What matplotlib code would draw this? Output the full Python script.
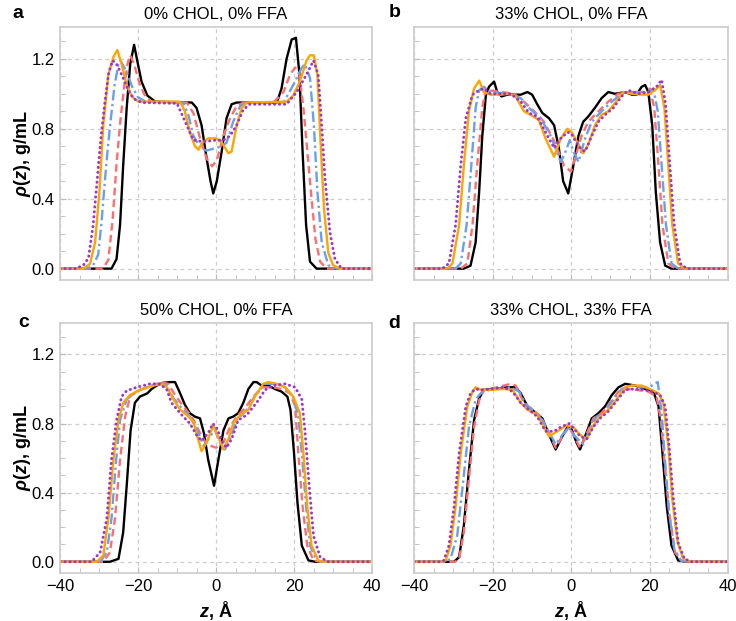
import numpy as np
import matplotlib.pyplot as plt
from matplotlib.ticker import MultipleLocator

plt.rcParams['font.family'] = ['Liberation Sans', 'DejaVu Sans']
plt.rcParams['mathtext.fontset'] = 'custom'
plt.rcParams['mathtext.it'] = 'Liberation Sans:italic:bold'
plt.rcParams['mathtext.rm'] = 'Liberation Sans:bold'

# ---- panel a: 0% CHOL, 0% FFA ----
z_a_black = [-40, -26.8, -25.5, -24.6, -23.8, -22.9, -22.0, -21.0, -20.2, -19.1, -17.6, -15.6, -6.2, -5.0, -3.7, -2.4, -1.4, -0.7, 0.2, 1.45, 2.7, 4.0, 5.3, 15.6, 16.8, 18.1, 19.4, 20.5, 21.4, 22.2, 23.1, 24.1, 25.8, 40]
r_a_black = [0, 0, 0.055, 0.25, 0.59, 0.92, 1.17, 1.28, 1.19, 1.07, 0.99, 0.955, 0.95, 0.92, 0.82, 0.63, 0.50, 0.43, 0.50, 0.67, 0.86, 0.94, 0.95, 0.95, 1.03, 1.20, 1.31, 1.32, 1.11, 0.67, 0.25, 0.04, 0, 0]
z_a_red = [-40, -29.0, -27.6, -26.5, -25.5, -24.5, -23.5, -22.6, -22.0, -21.0, -19.5, -18.0, -16.5, -7.5, -5.8, -4.1, -2.4, -1.0, 0.2, 1.9, 3.6, 5.3, 7.0, 14.7, 17.3, 19.0, 20.3, 21.4, 22.5, 23.5, 24.5, 25.5, 26.7, 28.4, 40]
r_a_red = [0, 0, 0.05, 0.28, 0.6, 0.85, 1.05, 1.18, 1.22, 1.17, 1.05, 0.98, 0.955, 0.95, 0.89, 0.745, 0.63, 0.585, 0.62, 0.76, 0.86, 0.93, 0.95, 0.95, 1.01, 1.11, 1.15, 1.11, 0.9, 0.65, 0.4, 0.17, 0.04, 0, 0]
z_a_blue = [-40, -33.0, -31.5, -30.2, -29.3, -28.5, -27.7, -27.0, -26.0, -25.0, -24.5, -23.0, -21.5, -20.0, -18.0, -8.4, -7.1, -5.8, -4.0, -2.5, 0.0, 1.5, 2.7, 4.4, 6.2, 7.9, 17.3, 19.8, 22.0, 22.8, 24.1, 25.1, 26.0, 27.1, 28.8, 30.9, 40]
r_a_blue = [0, 0, 0.02, 0.08, 0.28, 0.5, 0.7, 0.85, 1.05, 1.17, 1.19, 1.13, 1.04, 0.98, 0.955, 0.95, 0.88, 0.76, 0.69, 0.675, 0.69, 0.70, 0.72, 0.84, 0.93, 0.95, 0.95, 1.05, 1.15, 1.17, 1.09, 0.82, 0.44, 0.15, 0.02, 0, 0]
z_a_orange = [-40, -34.0, -32.3, -31.0, -29.9, -28.9, -27.6, -26.3, -25.3, -24.2, -22.9, -21.6, -19.9, -9.2, -8.0, -6.7, -5.4, -4.5, -3.5, -2.0, 0.0, 1.5, 3.2, 4.0, 5.3, 6.6, 7.9, 18.1, 19.8, 21.5, 23.2, 24.1, 25.1, 26.0, 26.8, 27.7, 28.8, 30.0, 31.8, 40]
r_a_orange = [0, 0, 0.027, 0.15, 0.44, 0.82, 1.11, 1.21, 1.25, 1.17, 1.05, 0.985, 0.955, 0.955, 0.90, 0.78, 0.70, 0.68, 0.72, 0.745, 0.745, 0.72, 0.66, 0.67, 0.82, 0.92, 0.95, 0.955, 0.99, 1.07, 1.19, 1.22, 1.22, 1.11, 0.73, 0.34, 0.09, 0.02, 0, 0]
z_a_purple = [-40, -36, -34, -32.7, -31.5, -30.5, -29.5, -28.5, -27.5, -26.5, -25.5, -24, -22.5, -21, -19, -10, -7.5, -5.8, -3.2, 0, 1.9, 3.6, 5.3, 7.0, 8.7, 18.1, 20.7, 23.2, 25.0, 26.2, 27.1, 27.9, 29.2, 30.5, 32.2, 40]
r_a_purple = [0, 0, 0.02, 0.06, 0.25, 0.5, 0.75, 0.95, 1.12, 1.19, 1.17, 1.10, 1.02, 0.97, 0.95, 0.945, 0.82, 0.735, 0.726, 0.735, 0.735, 0.76, 0.82, 0.91, 0.94, 0.94, 1.01, 1.11, 1.19, 1.11, 0.82, 0.53, 0.21, 0.055, 0, 0]

# ---- panel b: 33% CHOL, 0% FFA ----
z_b_black = [-40, -27.3, -25.6, -24.3, -23.4, -22.6, -21.7, -20.9, -19.6, -18.8, -17.7, -16.2, -12.8, -11.1, -9.9, -8.6, -7.3, -5.6, -4.3, -3.1, -2.0, -0.7, 0.6, 1.9, 3.1, 4.4, 6.1, 7.8, 9.5, 11.2, 13.8, 15.5, 16.7, 18.0, 18.9, 19.7, 20.7, 21.6, 22.7, 24.0, 25.6, 40]
r_b_black = [0, 0, 0.017, 0.15, 0.44, 0.76, 0.99, 1.04, 1.07, 1.01, 0.985, 0.995, 0.995, 1.01, 0.995, 0.94, 0.89, 0.86, 0.82, 0.69, 0.50, 0.43, 0.59, 0.76, 0.84, 0.87, 0.92, 0.975, 1.01, 1.0, 1.01, 0.995, 0.995, 1.04, 1.05, 1.01, 0.82, 0.44, 0.15, 0.017, 0, 0]
z_b_red = [-40, -28.1, -26.4, -25.1, -23.9, -22.6, -21.7, -20.9, -14.5, -12.0, -9.4, -6.9, -4.3, -1.8, 0.0, 1.0, 2.7, 4.4, 7.0, 9.5, 12.0, 15.5, 18.9, 20.1, 21.2, 22.3, 23.3, 24.8, 26.5, 40]
r_b_red = [0, 0, 0.03, 0.25, 0.59, 0.92, 1.03, 1.02, 1.0, 0.955, 0.9, 0.84, 0.73, 0.59, 0.555, 0.63, 0.76, 0.84, 0.9, 0.955, 1.0, 1.01, 1.01, 1.03, 0.92, 0.59, 0.25, 0.03, 0, 0]
z_b_blue = [-40, -29.4, -28.1, -26.6, -25.4, -24.3, -23.4, -22.2, -20.5, -16.2, -12.8, -10.3, -7.7, -5.2, -2.6, -1.4, -0.3, 0.6, 1.9, 3.6, 5.3, 7.8, 10.4, 12.9, 16.3, 19.7, 21.0, 22.1, 23.1, 24.2, 25.6, 27.3, 40]
r_b_blue = [0, 0, 0.03, 0.25, 0.59, 0.92, 1.02, 1.04, 1.01, 1.0, 0.975, 0.91, 0.86, 0.76, 0.61, 0.67, 0.735, 0.67, 0.61, 0.745, 0.84, 0.9, 0.955, 1.0, 1.01, 1.01, 1.03, 0.9, 0.59, 0.25, 0.03, 0, 0]
z_b_orange = [-40, -31.5, -30.2, -28.5, -27.3, -26.0, -24.7, -23.4, -22.2, -20.5, -17.9, -15.8, -14.1, -12.0, -10.3, -8.2, -6.5, -4.3, -2.6, -0.9, 0.2, 1.9, 3.1, 4.4, 6.1, 7.8, 9.5, 11.2, 13.3, 15.5, 18.0, 19.7, 21.4, 22.7, 23.8, 24.8, 25.8, 27.3, 29.0, 40]
r_b_orange = [0, 0, 0.03, 0.25, 0.59, 0.9, 1.03, 1.075, 1.01, 0.995, 0.995, 1.0, 0.985, 0.9, 0.88, 0.85, 0.745, 0.64, 0.745, 0.80, 0.78, 0.71, 0.66, 0.71, 0.82, 0.88, 0.9, 0.946, 1.01, 1.0, 0.995, 0.995, 1.02, 1.05, 0.92, 0.59, 0.25, 0.03, 0, 0]
z_b_purple = [-40, -32.8, -31.1, -29.4, -28.1, -26.8, -25.1, -23.4, -22.2, -20.5, -15.4, -12.8, -10.7, -8.6, -6.5, -4.3, -2.6, -0.9, 0.0, 1.0, 2.7, 3.6, 5.3, 7.0, 8.7, 10.8, 12.9, 14.6, 17.2, 19.7, 21.8, 23.1, 24.1, 25.2, 26.3, 27.8, 29.5, 40]
r_b_purple = [0, 0, 0.03, 0.25, 0.59, 0.86, 0.995, 1.02, 1.03, 1.0, 1.0, 0.955, 0.89, 0.87, 0.78, 0.69, 0.745, 0.78, 0.775, 0.735, 0.68, 0.67, 0.76, 0.84, 0.88, 0.92, 0.985, 1.02, 1.0, 1.01, 1.04, 1.08, 0.94, 0.59, 0.25, 0.03, 0, 0]

# ---- panel c: 50% CHOL, 0% FFA ----
z_c_black = [-40, -27.2, -25.0, -23.8, -22.9, -21.9, -20.8, -19.5, -17.6, -16.5, -15.2, -13.5, -11.8, -10.5, -9.2, -8.0, -6.7, -5.4, -4.1, -3.1, -2.0, -0.5, 0.6, 1.9, 3.2, 4.4, 5.7, 7.0, 8.3, 9.6, 10.4, 11.7, 13.4, 15.1, 16.8, 18.3, 19.1, 20.0, 20.9, 22.0, 23.7, 25.4, 40]
r_c_black = [0, 0, 0.017, 0.17, 0.44, 0.76, 0.92, 0.956, 0.975, 1.0, 1.02, 1.036, 1.04, 1.04, 0.975, 0.91, 0.86, 0.84, 0.83, 0.745, 0.59, 0.44, 0.59, 0.76, 0.83, 0.84, 0.86, 0.92, 1.0, 1.04, 1.04, 1.02, 1.02, 1.0, 0.985, 0.956, 0.88, 0.63, 0.34, 0.094, 0.008, 0, 0]
z_c_red = [-40, -28.9, -27.2, -25.9, -24.6, -23.3, -22.05, -19.9, -16.9, -14.4, -12.2, -10.5, -8.4, -6.2, -4.1, -2.4, 0.0, 1.9, 3.6, 5.3, 7.4, 9.6, 12.1, 14.7, 16.8, 19.0, 20.3, 21.1, 22.2, 23.4, 25.0, 26.7, 40]
r_c_red = [0, 0, 0.055, 0.25, 0.59, 0.84, 0.956, 0.995, 1.01, 1.04, 1.03, 0.965, 0.9, 0.84, 0.745, 0.68, 0.66, 0.69, 0.78, 0.84, 0.89, 0.956, 1.01, 1.01, 1.0, 0.975, 0.9, 0.63, 0.32, 0.094, 0.008, 0, 0]
z_c_blue = [-40, -29.7, -28.0, -26.8, -25.6, -24.6, -22.9, -20.3, -16.9, -14.4, -12.6, -10.9, -8.8, -6.7, -4.5, -3.2, -1.5, -0.3, 1.0, 2.3, 3.6, 5.3, 7.9, 10.4, 12.6, 15.1, 17.7, 19.8, 21.1, 22.0, 23.1, 24.1, 25.8, 27.5, 40]
r_c_blue = [0, 0, 0.055, 0.25, 0.59, 0.82, 0.94, 0.985, 1.02, 1.03, 1.02, 0.946, 0.89, 0.84, 0.745, 0.67, 0.725, 0.765, 0.69, 0.65, 0.71, 0.82, 0.88, 0.975, 1.03, 1.03, 1.01, 0.956, 0.84, 0.63, 0.32, 0.094, 0.008, 0, 0]
z_c_orange = [-40, -30.6, -28.9, -27.6, -26.3, -25.0, -23.8, -22.05, -19.5, -16.1, -13.9, -12.6, -10.9, -9.2, -7.5, -5.8, -4.8, -3.7, -2.4, -0.7, 0.6, 1.9, 3.2, 4.4, 6.2, 8.3, 10.0, 12.1, 13.4, 15.6, 17.7, 19.8, 21.5, 22.4, 23.4, 24.5, 26.2, 27.9, 40]
r_c_orange = [0, 0, 0.036, 0.25, 0.59, 0.82, 0.92, 0.965, 0.995, 1.02, 1.03, 1.01, 0.94, 0.88, 0.85, 0.81, 0.726, 0.64, 0.69, 0.79, 0.72, 0.65, 0.71, 0.80, 0.85, 0.88, 0.956, 1.03, 1.04, 1.03, 1.01, 0.956, 0.86, 0.63, 0.32, 0.094, 0.008, 0, 0]
z_c_purple = [-40, -31.9, -29.7, -28.0, -26.8, -25.5, -24.2, -22.9, -20.3, -16.9, -14.4, -12.6, -11.4, -9.2, -6.7, -5.0, -3.7, -2.0, -0.8, 0.3, 1.45, 2.7, 4.0, 5.7, 7.9, 10.4, 12.6, 14.7, 17.7, 20.3, 22.0, 22.8, 23.9, 25.0, 26.7, 28.8, 40]
r_c_purple = [0, 0, 0.055, 0.25, 0.59, 0.82, 0.956, 0.99, 1.01, 1.03, 1.03, 0.995, 0.92, 0.86, 0.80, 0.735, 0.70, 0.745, 0.80, 0.77, 0.70, 0.66, 0.71, 0.82, 0.85, 0.92, 0.995, 1.02, 1.03, 1.01, 0.94, 0.76, 0.44, 0.15, 0.027, 0, 0]

# ---- panel d: 33% CHOL, 33% FFA ----
z_d_black = [-40, -29.8, -28.5, -27.3, -26.0, -24.7, -23.4, -22.2, -19.6, -16.2, -14.1, -12.8, -11.1, -9.4, -7.3, -5.6, -3.9, -2.6, -0.9, 0.2, 1.4, 2.3, 3.6, 5.3, 7.0, 8.7, 10.4, 12.1, 13.8, 16.3, 18.9, 21.0, 22.3, 23.3, 24.4, 25.6, 27.3, 29.0, 40]
r_d_black = [0, 0, 0.027, 0.21, 0.53, 0.82, 0.946, 0.995, 1.0, 1.01, 1.01, 0.975, 0.9, 0.87, 0.83, 0.735, 0.65, 0.71, 0.78, 0.765, 0.69, 0.65, 0.726, 0.83, 0.86, 0.9, 0.965, 1.01, 1.03, 1.02, 1.0, 0.985, 0.9, 0.63, 0.32, 0.094, 0.008, 0, 0]
z_d_red = [-40, -29.5, -28.5, -27.3, -26.0, -24.7, -23.4, -22.2, -18.8, -15.4, -14.1, -12.0, -10.3, -7.7, -5.6, -3.9, -2.2, -0.5, 0.6, 2.3, 3.6, 5.7, 7.8, 9.9, 12.1, 14.2, 16.7, 19.7, 21.8, 22.9, 24.0, 25.2, 26.5, 28.2, 29.9, 40]
r_d_red = [0, 0, 0.017, 0.17, 0.48, 0.78, 0.935, 0.995, 1.01, 1.03, 1.02, 0.92, 0.89, 0.84, 0.745, 0.66, 0.726, 0.78, 0.735, 0.66, 0.72, 0.83, 0.86, 0.92, 0.985, 1.0, 0.995, 0.985, 0.956, 0.82, 0.53, 0.25, 0.055, 0.004, 0, 0]
z_d_blue = [-40, -32.0, -30.7, -29.0, -27.4, -26.0, -24.3, -22.6, -19.6, -15.4, -13.2, -11.5, -9.4, -7.3, -5.2, -3.9, -2.2, -0.5, 1.0, 3.1, 4.8, 6.5, 8.7, 10.8, 12.9, 15.5, 18.0, 20.1, 21.2, 22.1, 23.1, 24.0, 25.0, 26.3, 28.0, 29.9, 40]
r_d_blue = [0, 0, 0.017, 0.15, 0.48, 0.78, 0.94, 0.985, 1.0, 1.01, 0.985, 0.91, 0.87, 0.82, 0.735, 0.68, 0.735, 0.78, 0.726, 0.68, 0.765, 0.84, 0.87, 0.94, 1.0, 1.02, 1.01, 1.01, 1.03, 1.04, 0.86, 0.57, 0.285, 0.075, 0.008, 0, 0]
z_d_orange = [-40, -33.0, -31.9, -30.7, -29.4, -28.1, -26.4, -25.1, -24.3, -23.0, -20.5, -17.1, -14.9, -12.8, -11.1, -8.6, -6.9, -5.6, -3.5, -1.1, 0.6, 2.3, 4.0, 5.7, 7.4, 9.5, 11.6, 13.8, 15.5, 18.0, 20.1, 22.3, 23.5, 24.8, 25.8, 27.2, 28.6, 30.3, 40]
r_d_orange = [0, 0, 0.008, 0.094, 0.32, 0.63, 0.9, 0.985, 1.01, 0.995, 0.995, 1.0, 0.995, 0.92, 0.88, 0.85, 0.78, 0.726, 0.755, 0.79, 0.78, 0.735, 0.71, 0.79, 0.84, 0.88, 0.94, 1.01, 1.02, 1.02, 1.0, 0.975, 0.92, 0.67, 0.36, 0.11, 0.017, 0, 0]
z_d_purple = [-40, -33.5, -32.4, -31.1, -29.8, -28.5, -26.8, -25.6, -24.3, -23.0, -20.5, -17.1, -14.9, -12.8, -10.7, -8.6, -6.5, -4.3, -2.6, -0.5, 0.6, 2.3, 4.0, 5.7, 7.4, 9.5, 11.6, 13.8, 15.9, 18.4, 20.6, 22.7, 24.0, 25.0, 26.1, 27.3, 28.9, 30.7, 40]
r_d_purple = [0, 0, 0.008, 0.094, 0.32, 0.63, 0.9, 0.975, 1.0, 0.995, 1.0, 1.01, 0.985, 0.92, 0.88, 0.84, 0.755, 0.755, 0.78, 0.80, 0.775, 0.726, 0.71, 0.78, 0.83, 0.87, 0.93, 0.995, 1.0, 0.995, 0.985, 0.965, 0.9, 0.67, 0.36, 0.11, 0.017, 0, 0]

titles = ['0% CHOL, 0% FFA', '33% CHOL, 0% FFA', '50% CHOL, 0% FFA', '33% CHOL, 33% FFA']
letters = ['a', 'b', 'c', 'd']

panels = [
    [(z_a_black, r_a_black), (z_a_red, r_a_red), (z_a_blue, r_a_blue), (z_a_orange, r_a_orange), (z_a_purple, r_a_purple)],
    [(z_b_black, r_b_black), (z_b_red, r_b_red), (z_b_blue, r_b_blue), (z_b_orange, r_b_orange), (z_b_purple, r_b_purple)],
    [(z_c_black, r_c_black), (z_c_red, r_c_red), (z_c_blue, r_c_blue), (z_c_orange, r_c_orange), (z_c_purple, r_c_purple)],
    [(z_d_black, r_d_black), (z_d_red, r_d_red), (z_d_blue, r_d_blue), (z_d_orange, r_d_orange), (z_d_purple, r_d_purple)],
]

styles = [
    dict(color='black', ls='-', lw=1.7),
    dict(color='#ff6f6f', ls=(0, (3.2, 1.8)), lw=1.7),
    dict(color='#6a9ff0', ls=(0, (4.5, 1.5, 1.0, 1.5)), lw=1.7),
    dict(color='#ffa500', ls='-', lw=1.7),
    dict(color='#9b35d0', ls=(0, (0.1, 1.6)), lw=2.1, dash_capstyle='round'),
]

W, H = 736, 621
boxes = [(60, 27, 372, 280), (414, 27, 728, 280), (60, 323, 372, 573), (414, 323, 728, 573)]
letter_pos = [(12, 18), (389, 17), (18, 327), (388, 328)]

fig = plt.figure(figsize=(W / 100, H / 100), dpi=100)

for i, (l, t, r, b) in enumerate(boxes):
    ax = fig.add_axes([l / W, 1 - b / H, (r - l) / W, (b - t) / H])
    for (z, rho), st in zip(panels[i], styles):
        ax.plot(z, rho, **st)
    ax.set_xlim(-40, 40)
    ax.set_ylim(-0.065, 1.382)
    ax.xaxis.set_major_locator(MultipleLocator(20))
    ax.xaxis.set_minor_locator(MultipleLocator(5))
    ax.yaxis.set_major_locator(MultipleLocator(0.4))
    ax.yaxis.set_minor_locator(MultipleLocator(0.1))
    ax.grid(True, which='major', color='#cccccc', ls=(0, (3, 3)), lw=0.9)
    ax.set_axisbelow(True)
    for s in ax.spines.values():
        s.set_color('#cccccc')
        s.set_linewidth(1.2)
    ax.tick_params(which='both', direction='in', color='#bbbbbb', labelsize=12, pad=4)
    ax.tick_params(which='major', length=4)
    ax.tick_params(which='minor', length=3.5)
    ax.yaxis.set_major_formatter(plt.FuncFormatter(lambda v, p: f'{v:.1f}'))
    if i % 2 == 1:
        ax.tick_params(labelleft=False)
    if i < 2:
        ax.tick_params(labelbottom=False)
    ax.set_title(titles[i], fontsize=12, pad=6)
    lx, ly = letter_pos[i]
    fig.text(lx / W, 1 - ly / H, letters[i], fontsize=14, fontweight='bold', va='baseline')

for cy in [153.5, 448]:
    fig.text(22.5 / W, 1 - cy / H, r'$\rho(z)$, g/mL', rotation=90, ha='center', va='center',
             fontsize=13, fontweight='bold')
for cx in [216, 571]:
    fig.text(cx / W, 1 - 610 / H, r'$z$, Å', ha='center', va='center', fontsize=13, fontweight='bold')

fig.savefig('out.png', dpi=100)
